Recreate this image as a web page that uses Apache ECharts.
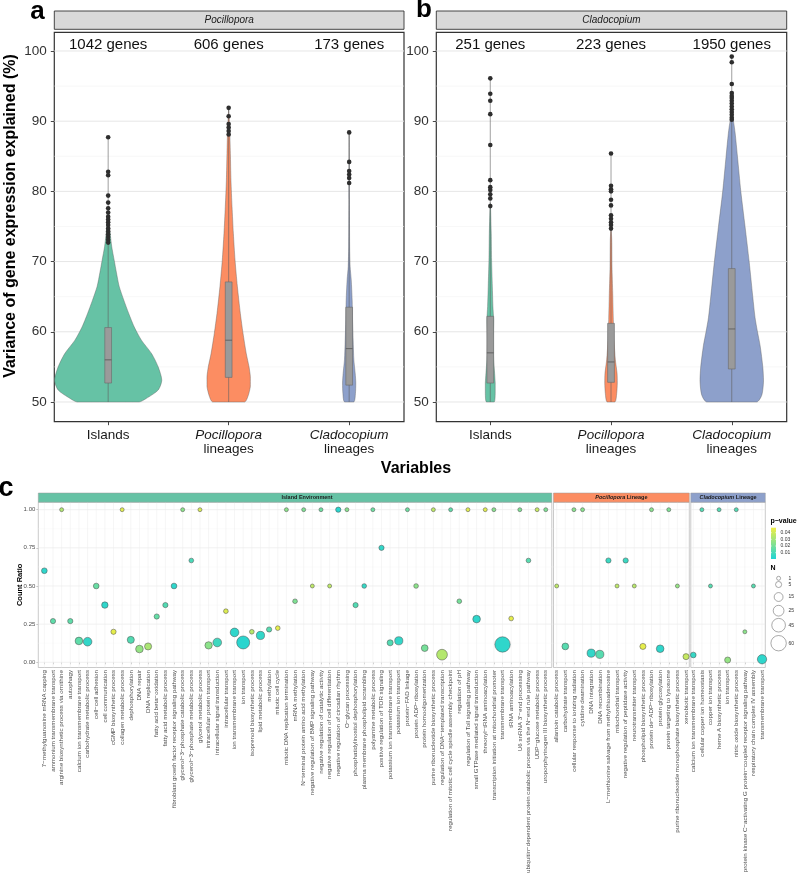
<!DOCTYPE html>
<html>
<head>
<meta charset="UTF-8">
<title>Variance explained and GO enrichment</title>
<script src="https://cdn.jsdelivr.net/npm/echarts@6.0.0/dist/echarts.min.js"></script>
<style>
  html, body { margin: 0; padding: 0; background: #fff; }
  #chart { width: 799px; height: 875px; }
</style>
</head>
<body>
<div id="chart"></div>
<script>
// ---------- panels a / b : violins ----------
const variables = ['Islands', 'Pocillopora lineages', 'Cladocopium lineages'];
const italicWords = ['Pocillopora', 'Cladocopium'];
const geneCountsA = [1042, 606, 173];
const geneCountsB = [251, 223, 1950];
const varianceTicks = [50, 60, 70, 80, 90, 100];
const varianceMinor = [55, 65, 75, 85, 95];

// density outlines: [variance, half width in category units]
const violinIslandsA = [[50, 0.257], [50.5, 0.316], [51.7, 0.415], [53.1, 0.445], [55, 0.415], [56.9, 0.36], [58.8, 0.276], [60.7, 0.216], [62.6, 0.171], [64.5, 0.13], [66.5, 0.091], [68.4, 0.069], [70.2, 0.05], [72.1, 0.03], [74, 0.017], [76, 0.008], [77.4, 0]];
const violinPocilloporaA = [[50, 0.133], [50.8, 0.16], [52.2, 0.18], [53.6, 0.18], [55, 0.169], [56.9, 0.146], [59.8, 0.119], [62.6, 0.097], [66.5, 0.072], [70.2, 0.053], [74, 0.039], [77.8, 0.028], [81.6, 0.019], [85.4, 0.014], [89.2, 0.008], [91.7, 0]];
const violinCladocopiumA = [[50, 0.039], [51.2, 0.052], [52.7, 0.055], [54.1, 0.05], [56, 0.039], [58.8, 0.033], [61.7, 0.028], [64.5, 0.025], [67.4, 0.017], [69.3, 0.008], [72.1, 0.004], [78.8, 0.002], [88.4, 0]];
const violinIslandsB = [[50, 0.033], [51.2, 0.041], [52.7, 0.041], [54.1, 0.036], [56, 0.028], [58.8, 0.025], [61.7, 0.028], [63.6, 0.022], [66.5, 0.017], [70.2, 0.011], [74, 0.008], [77.4, 0.003], [78.4, 0]];
const violinPocilloporaB = [[50, 0.033], [51.2, 0.047], [52.7, 0.052], [54.1, 0.05], [56, 0.036], [58.8, 0.025], [61.7, 0.019], [65.5, 0.014], [69.3, 0.008], [73.1, 0.006], [75, 0]];
const violinCladocopiumB = [[50, 0.207], [51, 0.249], [53, 0.263], [55, 0.257], [58, 0.235], [60, 0.213], [62, 0.193], [65, 0.174], [70, 0.144], [75, 0.11], [80, 0.075], [85, 0.047], [88.3, 0.028], [90, 0.014], [91, 0]];

// boxplots: [q1, median, q3]
const boxesA = [[52.7, 56.0, 60.6], [53.5, 58.8, 67.1], [52.4, 57.6, 63.5]];
const boxesB = [[52.7, 57.0, 62.2], [52.8, 55.7, 61.2], [54.7, 60.4, 69.0]];

// outliers
const outIslandsA = [87.7, 82.8, 82.3, 79.4, 78.4, 77.6, 77.0, 76.4, 76.0, 75.6, 75.2, 74.7, 74.3, 73.9, 73.5, 73.1, 72.7];
const outPocilloporaA = [91.9, 90.7, 89.6, 89.1, 88.6, 88.1];
const outCladocopiumA = [88.4, 84.2, 82.9, 82.4, 81.9, 81.2];
const outIslandsB = [96.1, 93.9, 92.9, 91.0, 86.6, 81.6, 80.6, 80.2, 79.6, 79.0, 77.9];
const outPocilloporaB = [85.4, 80.8, 80.3, 80.0, 78.8, 78.0, 76.6, 76.1, 75.6, 75.2, 74.7];
const outCladocopiumB = [99.2, 98.4, 95.3, 94.0, 93.6, 93.3, 92.9, 92.5, 92.1, 91.7, 91.3, 90.9, 90.5, 90.2];

// ---------- panel c : GO terms ----------
const ratioTicks = [0, 0.25, 0.5, 0.75, 1];
const ratioMinor = [0.125, 0.375, 0.625, 0.875];

const termsIsland = ['7−methylguanosine mRNA capping', 'ammonium transmembrane transport', 'arginine biosynthetic process via ornithine', 'autophagy', 'calcium ion transmembrane transport', 'carbohydrate metabolic process', 'cell−cell adhesion', 'cell communication', 'cGMP biosynthetic process', 'collagen metabolic process', 'dephosphorylation', 'DNA repair', 'DNA replication', 'fatty acid beta−oxidation', 'fatty acid metabolic process', 'fibroblast growth factor receptor signaling pathway', 'glycerol−3−phosphate catabolic process', 'glycerol−3−phosphate metabolic process', 'glycerol metabolic process', 'intracellular protein transport', 'intracellular signal transduction', 'intracellular transport', 'ion transmembrane transport', 'ion transport', 'isoprenoid biosynthetic process', 'lipid metabolic process', 'methylation', 'mitotic cell cycle', 'mitotic DNA replication termination', 'mRNA methylation', 'N−terminal protein amino acid methylation', 'negative regulation of BMP signaling pathway', 'negative regulation of catalytic activity', 'negative regulation of cell differentiation', 'negative regulation of circadian rhythm', 'O−glycan processing', 'phosphatidylinositol dephosphorylation', 'plasma membrane phospholipid scrambling', 'polyamine metabolic process', 'positive regulation of TOR signaling', 'potassium ion transmembrane transport', 'potassium ion transport', 'protein−FAD linkage', 'protein ADP−ribosylation', 'protein homooligomerization', 'purine ribonucleotide biosynthetic process', 'regulation of DNA−templated transcription', 'regulation of mitotic cell cycle spindle assembly checkpoint', 'regulation of pH', 'regulation of Toll signaling pathway', 'small GTPase mediated signal transduction', 'threonyl−tRNA aminoacylation', 'transcription initiation at mitochondrial promoter', 'transmembrane transport', 'tRNA aminoacylation', "U6 snRNA 3'−end processing", 'ubiquitin−dependent protein catabolic process via the N−end rule pathway', 'UDP−glucose metabolic process', 'uroporphyrinogen III biosynthetic process'];
const ratioIsland = [0.60, 0.27, 1.00, 0.27, 0.14, 0.135, 0.50, 0.375, 0.20, 1.00, 0.147, 0.087, 0.104, 0.30, 0.375, 0.50, 1.00, 0.667, 1.00, 0.111, 0.13, 0.335, 0.196, 0.13, 0.20, 0.176, 0.215, 0.224, 1.00, 0.40, 1.00, 0.50, 1.00, 0.50, 1.00, 1.00, 0.375, 0.50, 1.00, 0.75, 0.128, 0.141, 1.00, 0.50, 0.093, 1.00, 0.05, 1.00, 0.40, 1.00, 0.283, 1.00, 1.00, 0.117, 0.287, 1.00, 0.667, 1.00, 1.00];
const pIsland = [0.004, 0.015, 0.033, 0.015, 0.015, 0.005, 0.017, 0.004, 0.045, 0.044, 0.012, 0.027, 0.032, 0.016, 0.012, 0.004, 0.025, 0.010, 0.042, 0.025, 0.008, 0.043, 0.004, 0.003, 0.035, 0.005, 0.013, 0.045, 0.025, 0.022, 0.022, 0.036, 0.018, 0.036, 0.003, 0.024, 0.012, 0.006, 0.018, 0.005, 0.012, 0.005, 0.018, 0.025, 0.020, 0.036, 0.034, 0.015, 0.020, 0.044, 0.004, 0.044, 0.024, 0.004, 0.045, 0.022, 0.013, 0.038, 0.022];
const nIsland = [4, 3, 1, 3, 10, 14, 4, 6, 3, 1, 8, 10, 8, 3, 3, 4, 1, 2, 1, 9, 14, 2, 14, 40, 2, 12, 3, 2, 1, 2, 1, 1, 1, 1, 3, 1, 3, 2, 1, 3, 5, 12, 1, 2, 7, 1, 25, 1, 2, 1, 10, 1, 1, 60, 2, 1, 2, 1, 1];

const termsPocillopora = ['allantoin catabolic process', 'carbohydrate transport', 'cellular response to ionizing radiation', 'cytidine deamination', 'DNA integration', 'DNA recombination', 'L−methionine salvage from methylthioadenosine', 'mitochondrial transport', 'negative regulation of peptidase activity', 'neurotransmitter transport', 'phospholipid biosynthetic process', 'protein de−ADP−ribosylation', 'protein glycosylation', 'protein targeting to lysosome', 'purine ribonucleoside monophosphate biosynthetic process', 'xenobiotic transport'];
const ratioPocillopora = [0.50, 0.104, 1.00, 1.00, 0.06, 0.052, 0.667, 0.50, 0.667, 0.50, 0.104, 1.00, 0.089, 1.00, 0.50, 0.037];
const pPocillopora = [0.036, 0.013, 0.024, 0.024, 0.005, 0.013, 0.007, 0.036, 0.007, 0.035, 0.045, 0.024, 0.004, 0.022, 0.027, 0.038];
const nPocillopora = [1, 7, 1, 1, 12, 12, 3, 1, 3, 1, 5, 1, 10, 1, 1, 5];

const termsCladocopium = ['calcium ion transmembrane transport', 'cellular copper ion homeostasis', 'copper ion transport', 'heme A biosynthetic process', 'ion transport', 'nitric oxide biosynthetic process', 'protein kinase C−activating G protein−coupled receptor signaling pathway', 'respiratory chain complex IV assembly', 'transmembrane transport'];
const ratioCladocopium = [0.048, 1.00, 0.50, 1.00, 0.015, 1.00, 0.20, 0.50, 0.02];
const pCladocopium = [0.006, 0.012, 0.013, 0.012, 0.027, 0.012, 0.025, 0.013, 0.004];
const nCladocopium = [4, 1, 1, 1, 5, 1, 1, 1, 17];

const pLegendBreaks = [0.01, 0.02, 0.03, 0.04];
const nLegendBreaks = [1, 5, 15, 25, 45, 60];

// ---------- scales ----------
const FONT = "'Liberation Sans', Arial, Helvetica, sans-serif";
const violinColors = ['#66c2a5', '#fc8d62', '#8da0cb'];
const P_LIMITS = [0.0005, 0.0475];
const P_LOW = [31, 212, 214];
const P_HIGH = [240, 238, 68];
const N_LIMITS = [1, 60];
const SIZE_RANGE = [4, 15.4];

function pColor(p) {
  const t = Math.min(1, Math.max(0, (p - P_LIMITS[0]) / (P_LIMITS[1] - P_LIMITS[0])));
  return 'rgb(' + P_LOW.map((v, k) => Math.round(v + (P_HIGH[k] - v) * t)).join(',') + ')';
}
function nSize(n) {
  const s = (Math.sqrt(n) - Math.sqrt(N_LIMITS[0])) / (Math.sqrt(N_LIMITS[1]) - Math.sqrt(N_LIMITS[0]));
  return SIZE_RANGE[0] + s * (SIZE_RANGE[1] - SIZE_RANGE[0]);
}

// ---------- layout ----------
const X_AB = [0.553, 3.455];
const Y_AB = [47.19, 102.66];
const Y_C = [-0.034, 1.049];
const X_C = [[0.3, 59.7], [0.63, 16.38], [0.71, 9.38]];
const GENE_LABEL_Y = 100.8;
const BOX_HALF = 0.028;

const grids = [
  { left: 54.3, top: 32.3, width: 349.7, height: 389.4, borderColor: '#333', borderWidth: 1.2 },
  { left: 436.3, top: 32.3, width: 350.4, height: 389.4, borderColor: '#333', borderWidth: 1.2 },
  { left: 38.3, top: 502.2, width: 513.5, height: 165.3, borderColor: '#b3b3b3', borderWidth: 0.7 },
  { left: 553.5, top: 502.2, width: 135.8, height: 165.3, borderColor: '#b3b3b3', borderWidth: 0.7 },
  { left: 690.8, top: 502.2, width: 74.5, height: 165.3, borderColor: '#b3b3b3', borderWidth: 0.7 }
].map(g => Object.assign({ show: true, containLabel: false, outerBoundsMode: 'none', backgroundColor: '#fff' }, g));

function lineRenderer(color, width) {
  return function (params, api) {
    const a = api.coord([api.value(0), api.value(1)]);
    const b = api.coord([api.value(2), api.value(3)]);
    return { type: 'line', shape: { x1: a[0], y1: a[1], x2: b[0], y2: b[1] }, style: { stroke: color, lineWidth: width } };
  };
}
function hLines(gi, values, xr, color, width) {
  return {
    type: 'custom', xAxisIndex: gi, yAxisIndex: gi, z: 1, silent: true, animation: false,
    data: values.map(v => [xr[0], v, xr[1], v]), encode: { x: [0, 2], y: [1, 3] },
    renderItem: lineRenderer(color, width)
  };
}
function vLines(gi, values, yr, color, width) {
  return {
    type: 'custom', xAxisIndex: gi, yAxisIndex: gi, z: 1, silent: true, animation: false,
    data: values.map(v => [v, yr[0], v, yr[1]]), encode: { x: [0, 2], y: [1, 3] },
    renderItem: lineRenderer(color, width)
  };
}

function violinSeries(gi, profiles, boxes, outliers) {
  return {
    type: 'custom', xAxisIndex: gi, yAxisIndex: gi, z: 2, silent: true, animation: false,
    data: profiles.map((p, i) => [i + 1, p[0][0]]), encode: { x: 0, y: 1 },
    renderItem: function (params, api) {
      const i = params.dataIndex, xc = i + 1, prof = profiles[i];
      const pts = [];
      prof.forEach(d => pts.push(api.coord([xc + d[1], d[0]])));
      for (let k = prof.length - 1; k >= 0; k--) pts.push(api.coord([xc - prof[k][1], prof[k][0]]));
      const xs = pts.map(p => p[0]), ys = pts.map(p => p[1]);
      const bx = boxes[i];
      const lo = api.coord([xc, prof[0][0]]), hi = api.coord([xc, Math.max.apply(null, outliers[i])]);
      const b1 = api.coord([xc - BOX_HALF, bx[2]]), b2 = api.coord([xc + BOX_HALF, bx[0]]);
      const m1 = api.coord([xc - BOX_HALF, bx[1]]), m2 = api.coord([xc + BOX_HALF, bx[1]]);
      return {
        type: 'group', children: [
          { type: 'polygon', shape: { points: pts, smooth: 0.25, smoothConstraint: [[Math.min.apply(null, xs), Math.min.apply(null, ys)], [Math.max.apply(null, xs), Math.max.apply(null, ys)]] },
            style: { fill: violinColors[i], stroke: '#5a5a5a', lineWidth: 0.4 } },
          { type: 'line', shape: { x1: lo[0], y1: lo[1], x2: hi[0], y2: hi[1] }, style: { stroke: '#5f5f5f', lineWidth: 0.6 } },
          { type: 'rect', shape: { x: b1[0], y: b1[1], width: b2[0] - b1[0], height: b2[1] - b1[1] }, style: { fill: '#9a9a9a', stroke: '#6a6a6a', lineWidth: 0.6 } },
          { type: 'line', shape: { x1: m1[0], y1: m1[1], x2: m2[0], y2: m2[1] }, style: { stroke: '#555', lineWidth: 0.8 } }
        ]
      };
    }
  };
}
function outlierSeries(gi, outliers) {
  const data = [];
  outliers.forEach((arr, i) => arr.forEach(v => data.push([i + 1, v])));
  return { type: 'scatter', xAxisIndex: gi, yAxisIndex: gi, z: 4, silent: true, animation: false,
    data: data, symbolSize: 4.6, itemStyle: { color: '#2e2e2e', opacity: 1 } };
}
function geneCountSeries(gi, counts) {
  return {
    type: 'custom', xAxisIndex: gi, yAxisIndex: gi, z: 5, silent: true, animation: false,
    data: counts.map((c, i) => [i + 1, GENE_LABEL_Y, c]), encode: { x: 0, y: 1 },
    renderItem: function (params, api) {
      const p = api.coord([api.value(0), api.value(1)]);
      return { type: 'text', x: p[0], y: p[1], style: { text: api.value(2) + ' genes', fontSize: 15, fontFamily: FONT, fill: '#111',
        align: 'center', verticalAlign: 'middle', textAlign: 'center', textVerticalAlign: 'middle' } };
    }
  };
}
function bubbleSeries(gi, ratios, pvals, ns) {
  return {
    type: 'scatter', xAxisIndex: gi, yAxisIndex: gi, z: 3, silent: true, animation: false, clip: true,
    data: ratios.map((r, i) => ({ value: [i + 1, r, pvals[i], ns[i]], itemStyle: { color: pColor(pvals[i]) } })),
    symbolSize: v => nSize(v[3]),
    itemStyle: { borderColor: '#4a4a4a', borderWidth: 0.5, opacity: 1 }
  };
}

function varLabel(v) {
  const name = variables[Math.round(v) - 1] || '';
  const parts = name.split(' ');
  if (italicWords.indexOf(parts[0]) >= 0) return '{i|' + parts[0] + '}\n' + parts.slice(1).join(' ');
  return name;
}
const catTicks3 = [1, 2, 3];
function abXAxis(gi) {
  return {
    type: 'value', gridIndex: gi, min: X_AB[0], max: X_AB[1],
    axisLine: { show: false }, splitLine: { show: false },
    axisTick: { show: true, customValues: catTicks3, length: 3.5, lineStyle: { color: '#333', width: 0.9 } },
    axisLabel: { show: true, customValues: catTicks3, formatter: varLabel, fontSize: 13.5, lineHeight: 13.5, color: '#1a1a1a', margin: 7, fontFamily: FONT, hideOverlap: false,
      rich: { i: { fontStyle: 'italic', fontSize: 13.5, lineHeight: 13.5, color: '#1a1a1a', fontFamily: FONT } } }
  };
}
function abYAxis(gi) {
  return {
    type: 'value', gridIndex: gi, min: Y_AB[0], max: Y_AB[1],
    axisLine: { show: false }, splitLine: { show: false },
    axisTick: { show: true, customValues: varianceTicks, length: 3.5, lineStyle: { color: '#333', width: 0.9 } },
    axisLabel: { show: true, customValues: varianceTicks, fontSize: 13.5, color: '#333', margin: 7.5, fontFamily: FONT }
  };
}
function cXAxis(gi, terms) {
  const idx = terms.map((t, i) => i + 1);
  return {
    type: 'value', gridIndex: gi, min: X_C[gi - 2][0], max: X_C[gi - 2][1],
    axisLine: { show: false }, splitLine: { show: false },
    axisTick: { show: true, customValues: idx, length: 2, lineStyle: { color: '#999', width: 0.5 } },
    axisLabel: { show: true, customValues: idx, rotate: 90, fontSize: 6.2, color: '#4d4d4d', margin: 2.5, fontFamily: FONT, hideOverlap: false,
      formatter: v => terms[Math.round(v) - 1] || '' }
  };
}
function cYAxis(gi, withLabels) {
  return {
    type: 'value', gridIndex: gi, min: Y_C[0], max: Y_C[1],
    axisLine: { show: false }, splitLine: { show: false },
    axisTick: { show: withLabels, customValues: ratioTicks, length: 2, lineStyle: { color: '#999', width: 0.5 } },
    axisLabel: { show: withLabels, customValues: ratioTicks, fontSize: 6, color: '#4d4d4d', margin: 3, fontFamily: FONT,
      formatter: v => v.toFixed(2) }
  };
}

// ---------- graphics (titles, strips, legend) ----------
function txt(x, y, text, st, extra) {
  return Object.assign({ type: 'text', x: x, y: y, silent: true, z: 10,
    style: Object.assign({ text: text, fontFamily: FONT, fill: '#000', align: 'center', verticalAlign: 'middle', textAlign: 'center', textVerticalAlign: 'middle' }, st) }, extra || {});
}
function strip(x, y, w, h, fill, stroke, lw) {
  return { type: 'rect', silent: true, z: 9, shape: { x: x, y: y, width: w, height: h }, style: { fill: fill, stroke: stroke, lineWidth: lw } };
}
const graphics = [
  txt(37.5, 12, 'a', { fontSize: 26, fontWeight: 'bold' }),
  txt(424, 10, 'b', { fontSize: 26, fontWeight: 'bold' }),
  txt(6, 489, 'c', { fontSize: 27, fontWeight: 'bold' }),
  txt(11, 216, 'Variance of gene expression explained (%)', { fontSize: 16, fontWeight: 'bold' }, { rotation: Math.PI / 2 }),
  txt(416, 469, 'Variables', { fontSize: 16, fontWeight: 'bold' }),
  strip(54.3, 11, 349.7, 18.3, '#d9d9d9', '#333', 0.9),
  txt(229.2, 20.3, 'Pocillopora', { fontSize: 10, fontStyle: 'italic', fill: '#1a1a1a' }),
  strip(436.3, 11, 350.4, 18.3, '#d9d9d9', '#333', 0.9),
  txt(611.5, 20.3, 'Cladocopium', { fontSize: 10, fontStyle: 'italic', fill: '#1a1a1a' }),
  strip(38.3, 493, 513.5, 9.2, violinColors[0], '#9a9a9a', 0.5),
  txt(307, 497.7, 'Island Environment', { fontSize: 5.5, fontWeight: 'bold', fill: '#1a1a1a' }),
  strip(553.5, 493, 135.8, 9.2, violinColors[1], '#9a9a9a', 0.5),
  txt(621.4, 497.7, '{i|Pocillopora} Lineage', { fontSize: 5.5, fontWeight: 'bold', fill: '#1a1a1a',
    rich: { i: { fontStyle: 'italic', fontWeight: 'bold', fontSize: 5.5, fill: '#1a1a1a', fontFamily: FONT } } }),
  strip(690.8, 493, 74.5, 9.2, violinColors[2], '#9a9a9a', 0.5),
  txt(728, 497.7, '{i|Cladocopium} Lineage', { fontSize: 5.5, fontWeight: 'bold', fill: '#1a1a1a',
    rich: { i: { fontStyle: 'italic', fontWeight: 'bold', fontSize: 5.5, fill: '#1a1a1a', fontFamily: FONT } } }),
  txt(20, 584.8, 'Count Ratio', { fontSize: 7.5, fontWeight: 'bold' }, { rotation: Math.PI / 2 })
];

// p-value colour bar
const BAR = { x: 771, y: 527.7, w: 5, h: 31.3 };
const pToBarY = p => BAR.y + (P_LIMITS[1] - p) / (P_LIMITS[1] - P_LIMITS[0]) * BAR.h;
graphics.push(txt(770.5, 521, 'p−value', { fontSize: 7, fontWeight: 'bold', align: 'left', textAlign: 'left' }));
graphics.push({ type: 'rect', silent: true, z: 10, shape: { x: BAR.x, y: BAR.y, width: BAR.w, height: BAR.h },
  style: { fill: { type: 'linear', x: 0, y: 0, x2: 0, y2: 1, colorStops: [0, 0.25, 0.5, 0.75, 1].map(o => ({ offset: o, color: pColor(P_LIMITS[1] - o * (P_LIMITS[1] - P_LIMITS[0])) })) } } });
pLegendBreaks.forEach(p => {
  const y = pToBarY(p);
  graphics.push({ type: 'line', silent: true, z: 11, shape: { x1: BAR.x, y1: y, x2: BAR.x + 1, y2: y }, style: { stroke: '#fff', lineWidth: 0.5 } });
  graphics.push({ type: 'line', silent: true, z: 11, shape: { x1: BAR.x + BAR.w - 1, y1: y, x2: BAR.x + BAR.w, y2: y }, style: { stroke: '#fff', lineWidth: 0.5 } });
  graphics.push(txt(780.5, y, p.toFixed(2), { fontSize: 5, fill: '#333', align: 'left', textAlign: 'left' }));
});
// N size legend
graphics.push(txt(770.5, 568, 'N', { fontSize: 7, fontWeight: 'bold', align: 'left', textAlign: 'left' }));
const nKeyY = [578.3, 584.5, 597, 610.7, 625.2, 643.2];
nLegendBreaks.forEach((n, k) => {
  graphics.push({ type: 'circle', silent: true, z: 10, shape: { cx: 778.6, cy: nKeyY[k], r: nSize(n) / 2 }, style: { fill: '#fff', stroke: '#555', lineWidth: 0.5 } });
  graphics.push(txt(788.5, nKeyY[k], String(n), { fontSize: 5, fill: '#333', align: 'left', textAlign: 'left' }));
});

// ---------- assemble ----------
const option = {
  backgroundColor: '#fff',
  animation: false,
  textStyle: { fontFamily: FONT },
  grid: grids,
  xAxis: [abXAxis(0), abXAxis(1), cXAxis(2, termsIsland), cXAxis(3, termsPocillopora), cXAxis(4, termsCladocopium)],
  yAxis: [abYAxis(0), abYAxis(1), cYAxis(2, true), cYAxis(3, false), cYAxis(4, false)],
  graphic: { elements: graphics },
  series: [
    hLines(0, varianceMinor, X_AB, '#f2f2f2', 0.6), hLines(0, varianceTicks, X_AB, '#e6e6e6', 1),
    hLines(1, varianceMinor, X_AB, '#f2f2f2', 0.6), hLines(1, varianceTicks, X_AB, '#e6e6e6', 1),
    violinSeries(0, [violinIslandsA, violinPocilloporaA, violinCladocopiumA], boxesA, [outIslandsA, outPocilloporaA, outCladocopiumA]),
    violinSeries(1, [violinIslandsB, violinPocilloporaB, violinCladocopiumB], boxesB, [outIslandsB, outPocilloporaB, outCladocopiumB]),
    outlierSeries(0, [outIslandsA, outPocilloporaA, outCladocopiumA]),
    outlierSeries(1, [outIslandsB, outPocilloporaB, outCladocopiumB]),
    geneCountSeries(0, geneCountsA),
    geneCountSeries(1, geneCountsB),
    hLines(2, ratioMinor, X_C[0], '#f4f4f4', 0.4), hLines(2, ratioTicks, X_C[0], '#e8e8e8', 0.6),
    vLines(2, termsIsland.map((t, i) => i + 1), Y_C, '#ececec', 0.5),
    hLines(3, ratioMinor, X_C[1], '#f4f4f4', 0.4), hLines(3, ratioTicks, X_C[1], '#e8e8e8', 0.6),
    vLines(3, termsPocillopora.map((t, i) => i + 1), Y_C, '#ececec', 0.5),
    hLines(4, ratioMinor, X_C[2], '#f4f4f4', 0.4), hLines(4, ratioTicks, X_C[2], '#e8e8e8', 0.6),
    vLines(4, termsCladocopium.map((t, i) => i + 1), Y_C, '#ececec', 0.5),
    bubbleSeries(2, ratioIsland, pIsland, nIsland),
    bubbleSeries(3, ratioPocillopora, pPocillopora, nPocillopora),
    bubbleSeries(4, ratioCladocopium, pCladocopium, nCladocopium)
  ]
};

const myChart = echarts.init(document.getElementById('chart'), null, { renderer: 'canvas' });
myChart.setOption(option);
</script>
</body>
</html>
